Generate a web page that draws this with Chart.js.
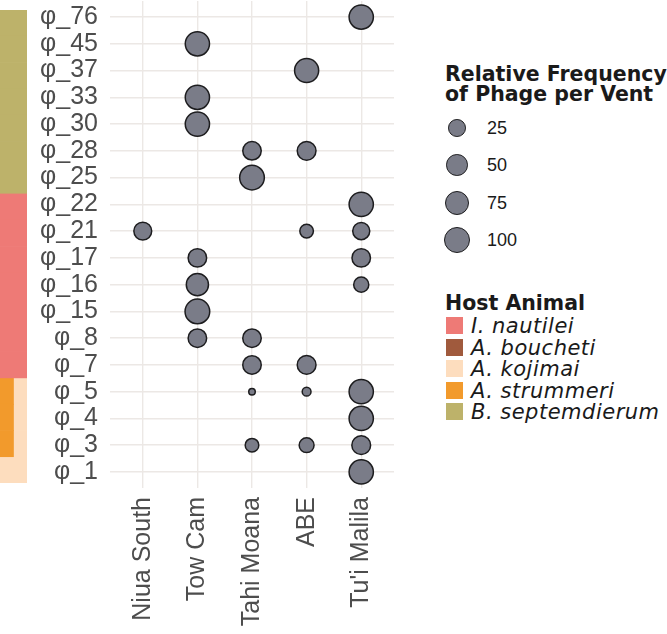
<!DOCTYPE html>
<html>
<head>
<meta charset="utf-8">
<script src="https://cdn.jsdelivr.net/npm/chart.js@4.4.1/dist/chart.umd.min.js"></script>
<style>
  body { margin:0; background:#fff; width:667px; height:634px; overflow:hidden; position:relative; }
  #main { position:absolute; left:0; top:0; }
  #hostBar { position:absolute; left:0; top:10px; }
  .leg { position:absolute; color:#1a1a1a; white-space:nowrap; }
  .title { font-family:"DejaVu Sans"; font-weight:bold; font-size:20.5px; line-height:20px; }
  .sizeLab { font-family:"Liberation Sans"; font-size:18px; line-height:18px; }
  .hostLab { font-family:"DejaVu Sans"; font-style:italic; font-size:21px; line-height:20px; letter-spacing:0.5px; }
  .dot { position:absolute; border-radius:50%; background:#7a7c88; border:1.5px solid #1d1d1f; box-sizing:border-box; }
  .sw { position:absolute; width:17px; height:17px; }
</style>
</head>
<body>
<canvas id="hostBar" width="27" height="473"></canvas>
<canvas id="main" width="400" height="634"></canvas>
<div id="legends"></div>
<script>
const sites = ["Niua South", "Tow Cam", "Tahi Moana", "ABE", "Tu'i Malila"];
const phages = ["φ_76","φ_45","φ_37","φ_33","φ_30","φ_28","φ_25","φ_22","φ_21",
                "φ_17","φ_16","φ_15","φ_8","φ_7","φ_5","φ_4","φ_3","φ_1"];

// relative frequency of each phage per vent, same order as phages (null = absent)
const niuaSouth  = [null,null,null,null,null,null,null,null,34,  null,null,null,null,null,null,null,null,null];
const towCam     = [null,90,  null,90,  90,  null,null,null,null,38,  68,  95,  38,  null,null,null,null,null];
const tahiMoana  = [null,null,null,null,null,38,  95,  null,null,null,null,null,38,  38,  0.3, null,13,  null];
const abe        = [null,null,88,  null,null,40,  null,null,13,  null,null,null,null,40,  2,   null,18,  null];
const tuiMalila  = [90,  null,null,null,null,null,null,90,  29,  38,  19,  null,null,null,90,  90,  40,  90];
const siteValues = [niuaSouth, towCam, tahiMoana, abe, tuiMalila];

const sizeBreaks = [25, 50, 75, 100];

// host animal share of each phage row
const hosts = ["I. nautilei", "A. boucheti", "A. kojimai", "A. strummeri", "B. septemdierum"];
const hostColors = ["#ee7a76", "#a05a3d", "#fdddbe", "#f29a2c", "#bdb26a"];
const nautilei     = [0,0,0,0,0,0,0,1,1,1,1,1,1,1,0,0,0,0];
const boucheti     = [0,0,0,0,0,0,0,0,0,0,0,0,0,0,0,0,0,0];
const strummeri    = [0,0,0,0,0,0,0,0,0,0,0,0,0,0,0.5,0.5,0.5,0];
const kojimai      = [0,0,0,0,0,0,0,0,0,0,0,0,0,0,0.5,0.5,0.5,1];
const septemdierum = [1,1,1,1,1,1,1,0,0,0,0,0,0,0,0,0,0,0];

const fill = "#7a7c88", edge = "#1d1d1f", tickCol = "#4d4d4d", gridCol = "#ece8e5";

// outer radius in px for a frequency (area-ish scale)
function outerR(v){ return 3 + 10.3*Math.pow(v/100, 0.4); }

const points = [];
siteValues.forEach((arr, xi) => {
    arr.forEach((v, yi) => {
        if(v === null) return;
        points.push({x: xi, y: yi, r: outerR(v) - 0.75, v: v});
    });
});

function noPad(s){ s.paddingTop = 0; s.paddingBottom = 0; s.paddingLeft = 0; s.paddingRight = 0; }

new Chart(document.getElementById("main"), {
    type: "bubble",
    data: { datasets: [{ data: points, backgroundColor: fill, borderColor: edge, borderWidth: 1.5, hoverRadius: 0, clip: false }] },
    options: {
        responsive: false, animation: false,
        layout: { autoPadding: false, padding: { top: 1, right: 6, left: 0, bottom: 0 } },
        plugins: { legend: { display: false }, tooltip: { enabled: false } },
        scales: {
            x: {
                type: "linear", min: -0.6, max: sites.length - 0.4,
                afterBuildTicks: s => { s.ticks = sites.map((_, i) => ({ value: i })); },
                afterFit: s => { s.height = 146; noPad(s); },
                ticks: { callback: v => sites[v], minRotation: 90, maxRotation: 90, autoSkip: false, padding: 9,
                         color: tickCol, font: { family: "Liberation Sans", size: 25 } },
                grid: { color: gridCol, lineWidth: 1.4, drawTicks: false },
                border: { display: false }
            },
            y: {
                type: "linear", reverse: true, min: -0.6, max: phages.length - 0.4,
                afterBuildTicks: s => { s.ticks = phages.map((_, i) => ({ value: i })); },
                afterFit: s => { s.width = 110; noPad(s); },
                ticks: { callback: v => phages[v], autoSkip: false, padding: 12,
                         color: tickCol, font: { family: "Liberation Sans", size: 25 } },
                grid: { color: gridCol, lineWidth: 1.4, drawTicks: false },
                border: { display: false }
            }
        }
    }
});

// host colour strip on the left
const hostData = { "I. nautilei": nautilei, "A. boucheti": boucheti, "A. strummeri": strummeri,
                   "A. kojimai": kojimai, "B. septemdierum": septemdierum };
new Chart(document.getElementById("hostBar"), {
    type: "bar",
    data: {
        labels: phages,
        datasets: ["I. nautilei","A. boucheti","A. strummeri","A. kojimai","B. septemdierum"].map(h => ({
            label: h, data: hostData[h].map(v => v || null),
            backgroundColor: hostColors[hosts.indexOf(h)], borderWidth: 0,
            barPercentage: 1, categoryPercentage: 1
        }))
    },
    options: {
        indexAxis: "y", responsive: false, animation: false,
        layout: { padding: 0 },
        plugins: { legend: { display: false }, tooltip: { enabled: false } },
        scales: {
            x: { stacked: true, min: 0, max: 1, display: false },
            y: { stacked: true, display: false }
        }
    }
});

// legends
const lg = document.getElementById("legends");
let html = `<div class="leg title" style="left:445px;top:64px">Relative Frequency<br>of Phage per Vent</div>`;
const sizeY = [128, 165, 203, 240];
sizeBreaks.forEach((b, i) => {
    const r = outerR(b);
    html += `<div class="dot" style="left:${457-r}px;top:${sizeY[i]-r}px;width:${2*r}px;height:${2*r}px"></div>`;
    html += `<div class="leg sizeLab" style="left:487px;top:${sizeY[i]-9}px">${b}</div>`;
});
html += `<div class="leg title" style="left:445px;top:293px">Host Animal</div>`;
hosts.forEach((h, i) => {
    const top = 317 + i*21.6;
    html += `<div class="sw" style="left:446px;top:${top}px;background:${hostColors[i]}"></div>`;
    html += `<div class="leg hostLab" style="left:471px;top:${top-1}px">${h}</div>`;
});
lg.innerHTML = html;
</script>
</body>
</html>
